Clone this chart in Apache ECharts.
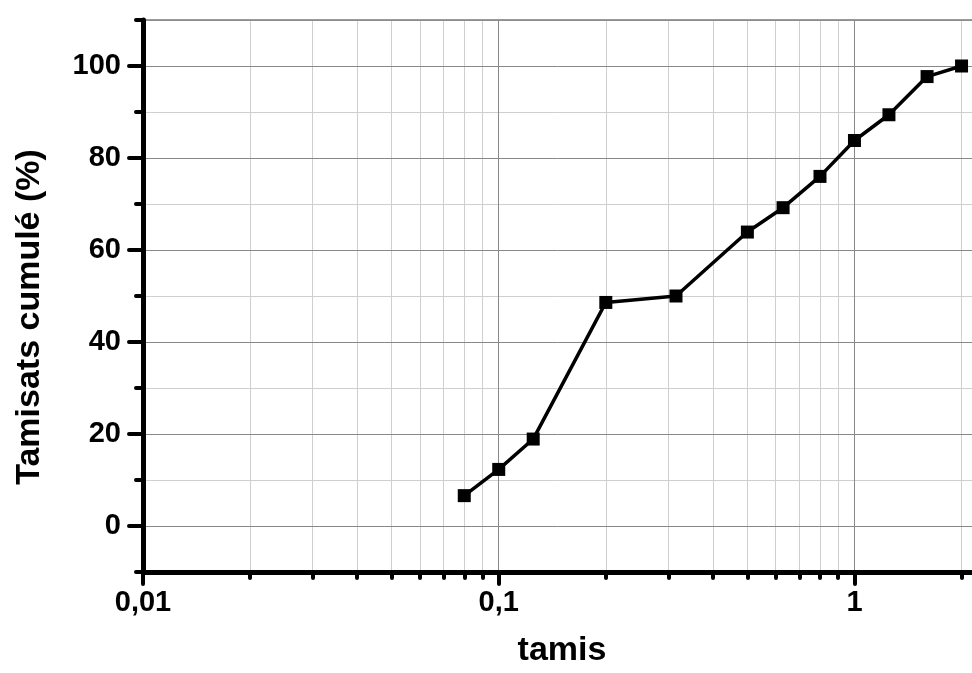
<!DOCTYPE html>
<html>
<head>
<meta charset="utf-8">
<script src="https://cdn.jsdelivr.net/npm/echarts@6/dist/echarts.min.js"></script>
<style>html,body{margin:0;padding:0;background:#fff}#c{width:972px;height:673px}</style>
</head>
<body>
<div id="c"></div>
<script>
// Data
var sieves = [0.08, 0.1, 0.125, 0.2, 0.315, 0.5, 0.63, 0.8, 1, 1.25, 1.6, 2];
var passing = [6.6, 12.3, 18.9, 48.6, 50.0, 63.9, 69.2, 76.0, 83.8, 89.4, 97.7, 100];
var xMajorTicks = [0.01, 0.1, 1];
var xMinorTicks = [0.02, 0.03, 0.04, 0.05, 0.06, 0.07, 0.08, 0.09, 0.2, 0.3, 0.4, 0.5, 0.6, 0.7, 0.8, 0.9, 2];
var yMajorTicks = [0, 20, 40, 60, 80, 100];
var yMinorTicks = [-10, 10, 30, 50, 70, 90, 110];

var FONT = '"Liberation Sans", Arial, sans-serif';
var xMin = 0.01, xMax = 2.14, yMin = -10, yMax = 110;

var chart = echarts.init(document.getElementById('c'));
var pts = sieves.map(function (s, i) { return [s, passing[i]]; });

chart.setOption({
  animation: false,
  backgroundColor: '#fff',
  grid: { left: 143, right: 0, top: 20, bottom: 98, containLabel: false },
  xAxis: [
    {
      type: 'log', logBase: 10, min: xMin, max: xMax, position: 'bottom',
      name: 'tamis', nameLocation: 'middle', nameGap: 62,
      nameTextStyle: { fontFamily: FONT, fontWeight: 'bold', fontSize: 34, color: '#000', padding: [0, 0, 0, 9] },
      axisLine: { show: true, onZero: false, lineStyle: { color: '#000', width: 5 } },
      axisTick: { show: true, inside: false, length: 12, customValues: xMajorTicks, lineStyle: { color: '#000', width: 4, cap: 'round' } },
      axisLabel: { show: true, margin: 16, customValues: xMajorTicks, fontFamily: FONT, fontWeight: 'bold', fontSize: 29, color: '#000',
        formatter: function (v) { return String(+v.toPrecision(6)).replace('.', ','); } },
      splitLine: { show: true, lineStyle: { color: '#888', width: 1 } },
      z: 2
    },
    {
      type: 'log', logBase: 10, min: xMin, max: xMax, position: 'bottom',
      axisLine: { show: false, onZero: false },
      axisTick: { show: true, length: 6, customValues: xMinorTicks, lineStyle: { color: '#000', width: 4, cap: 'round' } },
      axisLabel: { show: false },
      splitLine: { show: true, lineStyle: { color: '#cfcfcf', width: 1 } },
      z: 0
    },
    {
      type: 'log', logBase: 10, min: xMin, max: xMax, position: 'top',
      axisLine: { show: true, onZero: false, lineStyle: { color: '#7a7a7a', width: 1.5 } },
      axisTick: { show: false }, axisLabel: { show: false }, splitLine: { show: false },
      z: 1
    }
  ],
  yAxis: [
    {
      type: 'value', min: yMin, max: yMax, interval: 10, position: 'left',
      name: 'Tamisats cumulé (%)', nameLocation: 'middle', nameGap: 96, nameRotate: 90,
      nameTextStyle: { fontFamily: FONT, fontWeight: 'bold', fontSize: 34, color: '#000', padding: [0, 42, 0, 0] },
      axisLine: { show: true, onZero: false, lineStyle: { color: '#000', width: 5 } },
      axisTick: { show: true, length: 14, customValues: yMajorTicks, lineStyle: { color: '#000', width: 4, cap: 'round' } },
      axisLabel: { show: true, margin: 22, customValues: yMajorTicks, fontFamily: FONT, fontWeight: 'bold', fontSize: 29, color: '#000' },
      splitLine: { show: true, lineStyle: { color: '#888', width: 1 } },
      z: 2
    },
    {
      type: 'value', min: yMin, max: yMax, interval: 10, position: 'left',
      axisLine: { show: false, onZero: false },
      axisTick: { show: true, length: 7, customValues: yMinorTicks, lineStyle: { color: '#000', width: 4, cap: 'round' } },
      axisLabel: { show: false },
      splitLine: { show: true, lineStyle: { color: '#cfcfcf', width: 1 } },
      z: 0
    }
  ],
  series: [
    {
      type: 'line', xAxisIndex: 0, yAxisIndex: 0, data: pts,
      symbol: 'rect', symbolSize: 13,
      lineStyle: { color: '#000', width: 3.5 },
      itemStyle: { color: '#000' },
      z: 5
    }
  ]
});
</script>
</body>
</html>
